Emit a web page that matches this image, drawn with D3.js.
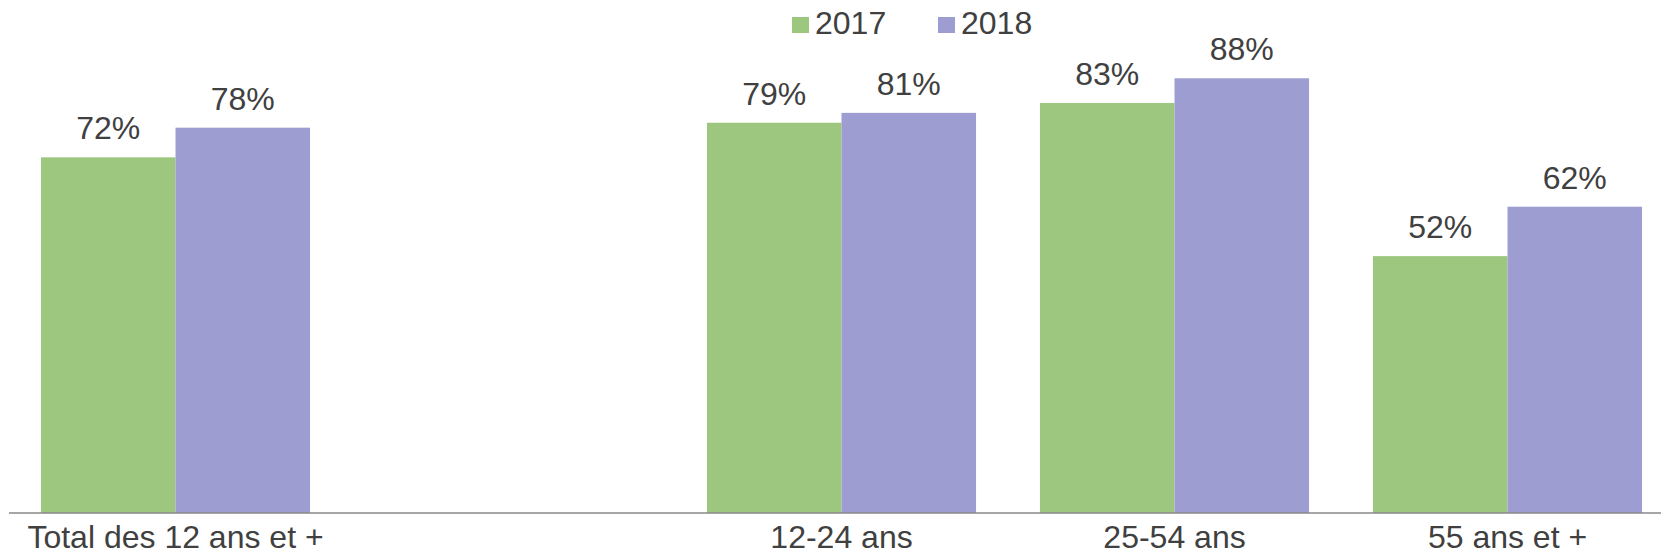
<!DOCTYPE html>
<html>
<head>
<meta charset="utf-8">
<script src="https://cdn.jsdelivr.net/npm/d3@7"></script>
<style>
  html, body { margin: 0; padding: 0; background: #fff; }
  svg { display: block; }
  text { font-family: "Liberation Sans", Arial, sans-serif; fill: #404040; }
</style>
</head>
<body>
<svg id="chart" width="1661" height="555"></svg>
<script>
const categories = ["Total des 12 ans et +", "", "12-24 ans", "25-54 ans", "55 ans et +"];
const seriesNames = ["2017", "2018"];
const values2017 = [72, null, 79, 83, 52];
const values2018 = [78, null, 81, 88, 62];
const seriesColors = ["#9DC77F", "#9E9DD1"];

const svg = d3.select("#chart");
const W = 1661, H = 555;
const baseY = 513;

const x0 = d3.scaleBand()
  .domain(categories.map((c, i) => i))
  .range([9, 9 + 5 * 333])
  .paddingInner(0.192)
  .paddingOuter(0.096);

const x1 = d3.scaleBand()
  .domain(seriesNames)
  .range([0, x0.bandwidth()])
  .padding(0);

const y = d3.scaleLinear().domain([0, 100]).range([baseY, 19]);

const color = d3.scaleOrdinal().domain(seriesNames).range(seriesColors);

const data = categories.map((c, i) => ({
  idx: i,
  cat: c,
  vals: [
    { s: "2017", v: values2017[i] },
    { s: "2018", v: values2018[i] }
  ].filter(d => d.v != null)
}));

const groups = svg.append("g").selectAll("g")
  .data(data).join("g")
  .attr("transform", d => `translate(${x0(d.idx)},0)`);

groups.selectAll("rect")
  .data(d => d.vals).join("rect")
  .attr("x", d => x1(d.s))
  .attr("y", d => y(d.v))
  .attr("width", x1.bandwidth())
  .attr("height", d => baseY - y(d.v))
  .attr("fill", d => color(d.s));

groups.selectAll("text.val")
  .data(d => d.vals).join("text")
  .attr("class", "val")
  .attr("x", d => x1(d.s) + x1.bandwidth() / 2)
  .attr("y", d => y(d.v) - 18)
  .attr("text-anchor", "middle")
  .style("font-size", "32px")
  .text(d => d.v + "%");

// x axis
const xAxis = d3.axisBottom(x0)
  .tickSize(0)
  .tickPadding(0)
  .tickFormat(i => categories[i]);

const gx = svg.append("g")
  .attr("transform", `translate(0,${baseY})`)
  .call(xAxis);
gx.select(".domain").remove();
gx.selectAll(".tick").filter(i => categories[i] === "").remove();
gx.selectAll("text")
  .attr("y", 35)
  .attr("dy", null)
  .style("font-size", "32px")
  .style("font-family", '"Liberation Sans", Arial, sans-serif')
  .attr("fill", "#404040");

svg.append("line")
  .attr("x1", 9).attr("x2", W)
  .attr("y1", baseY).attr("y2", baseY)
  .attr("stroke", "#898989")
  .attr("stroke-width", 1.5);

// legend
const legendItems = [
  { s: "2017", x: 792 },
  { s: "2018", x: 938 }
];
const lg = svg.append("g");
legendItems.forEach(it => {
  lg.append("rect")
    .attr("x", it.x).attr("y", 17)
    .attr("width", 17).attr("height", 16)
    .attr("fill", color(it.s));
  lg.append("text")
    .attr("x", it.x + 23).attr("y", 34)
    .style("font-size", "32px")
    .text(it.s);
});
</script>
</body>
</html>
